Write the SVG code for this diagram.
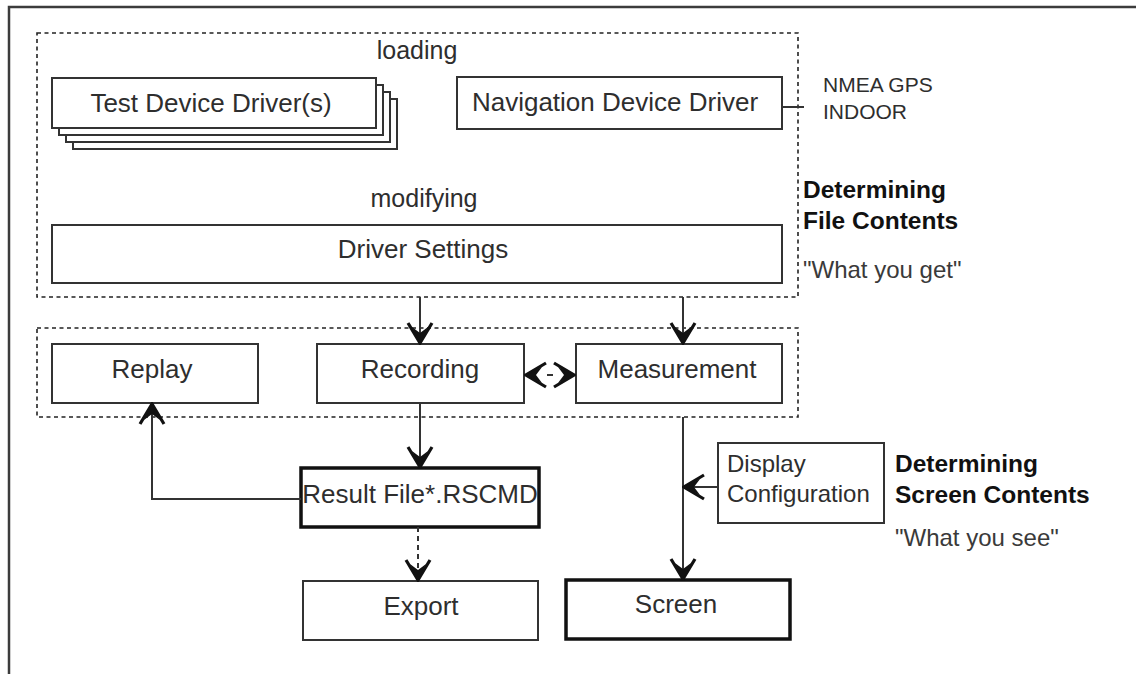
<svg xmlns="http://www.w3.org/2000/svg" width="1136" height="674" viewBox="0 0 1136 674">
  <defs>
    <style>
      text { font-family: "Liberation Sans", Arial, sans-serif; fill: #2e2e2e; }
      .lbl { font-size: 26px; text-anchor: middle; }
      .cap { font-size: 25px; text-anchor: middle; }
      .side { font-size: 21px; }
      .head { font-size: 24.5px; font-weight: bold; fill: #111; }
      .note { font-size: 24px; fill: #3a3a3a; }
      .box { fill: #fff; stroke: #333; stroke-width: 2; }
      .thick { fill: #fff; stroke: #111; stroke-width: 3.5; }
      .group { fill: none; stroke: #222; stroke-width: 1.6; stroke-dasharray: 4 3.5; }
      .wire { fill: none; stroke: #333; stroke-width: 2; }
      .frame { fill: none; stroke: #3c3c3c; stroke-width: 2.5; }
    </style>
    <!-- barbed arrowhead: thick chevron arms with a filled tip -->
    <marker id="arrow" viewBox="-24 -15 26 30" refX="0" refY="0" markerWidth="26" markerHeight="30" markerUnits="userSpaceOnUse" orient="auto-start-reverse">
      <path d="M-20,-12 L0,0 L-20,12" fill="none" stroke="#111" stroke-width="3.2"/>
      <path d="M1,0 L-16,-8 L-10,0 L-16,8 Z" fill="#111"/>
    </marker>
  </defs>

  <rect width="1136" height="674" fill="#fff"/>
  <!-- page frame (only top and left edges fall inside the view) -->
  <rect class="frame" x="9" y="7" width="1300" height="800"/>

  <!-- dashed groupings -->
  <rect class="group" x="37" y="33" width="761" height="264"/>
  <rect class="group" x="37" y="328" width="761" height="89"/>

  <!-- section captions -->
  <text class="cap" x="417" y="59">loading</text>
  <text class="cap" x="424" y="207">modifying</text>

  <g id="test-device-drivers">
    <rect class="box" x="73" y="99" width="324" height="50"/>
    <rect class="box" x="66" y="92" width="324" height="50"/>
    <rect class="box" x="59" y="85" width="324" height="50"/>
    <rect class="box" x="52" y="78" width="324" height="50"/>
    <text class="lbl" x="211" y="112">Test Device Driver(s)</text>
  </g>

  <g id="navigation-device-driver">
    <rect class="box" x="457" y="77" width="325" height="52"/>
    <text class="lbl" x="615" y="111">Navigation Device Driver</text>
  </g>

  <g id="nav-sources">
    <text class="side" x="823" y="92">NMEA GPS</text>
    <text class="side" x="823" y="119">INDOOR</text>
  </g>

  <g id="file-contents-note">
    <text class="head" x="803" y="198">Determining</text>
    <text class="head" x="803" y="229">File Contents</text>
    <text class="note" x="803" y="278">"What you get"</text>
  </g>

  <g id="driver-settings">
    <rect class="box" x="52" y="225" width="730" height="58"/>
    <text class="lbl" x="423" y="258">Driver Settings</text>
  </g>

  <g id="replay">
    <rect class="box" x="52" y="344" width="206" height="59"/>
    <text class="lbl" x="152" y="378">Replay</text>
  </g>

  <g id="recording">
    <rect class="box" x="317" y="344" width="207" height="59"/>
    <text class="lbl" x="420" y="378">Recording</text>
  </g>

  <g id="measurement">
    <rect class="box" x="576" y="344" width="206" height="59"/>
    <text class="lbl" x="677" y="378">Measurement</text>
  </g>

  <g id="result-file">
    <rect class="thick" x="301" y="468" width="238" height="59"/>
    <text class="lbl" x="420" y="503">Result File*.RSCMD</text>
  </g>

  <g id="export">
    <rect class="box" x="303" y="581" width="235" height="59"/>
    <text class="lbl" x="421" y="615">Export</text>
  </g>

  <g id="display-configuration">
    <rect class="box" x="718" y="443" width="166" height="80"/>
    <text class="note" x="727" y="472" style="fill:#2e2e2e">Display</text>
    <text class="note" x="727" y="502" style="fill:#2e2e2e">Configuration</text>
  </g>

  <g id="screen-contents-note">
    <text class="head" x="895" y="472">Determining</text>
    <text class="head" x="895" y="503">Screen Contents</text>
    <text class="note" x="895" y="546">"What you see"</text>
  </g>

  <g id="screen">
    <rect class="thick" x="566" y="580" width="224" height="59"/>
    <text class="lbl" x="676" y="613">Screen</text>
  </g>

  <g id="connectors">
    <line class="wire" x1="782" y1="107" x2="804" y2="107"/>
    <line class="wire" x1="420" y1="297" x2="420" y2="343" marker-end="url(#arrow)"/>
    <line class="wire" x1="683" y1="297" x2="683" y2="343" marker-end="url(#arrow)"/>
    <line class="wire" x1="526" y1="375" x2="574" y2="375" stroke-dasharray="0 21 6 30" marker-start="url(#arrow)" marker-end="url(#arrow)"/>
    <line class="wire" x1="420" y1="403" x2="420" y2="467" marker-end="url(#arrow)"/>
    <path class="wire" d="M301,499 H152 V404" marker-end="url(#arrow)"/>
    <line class="wire" x1="418" y1="527" x2="418" y2="580" stroke-dasharray="5 4" marker-end="url(#arrow)"/>
    <line class="wire" x1="683" y1="417" x2="683" y2="579" marker-end="url(#arrow)"/>
    <line class="wire" x1="718" y1="487" x2="684" y2="487" marker-end="url(#arrow)"/>
  </g>
</svg>
